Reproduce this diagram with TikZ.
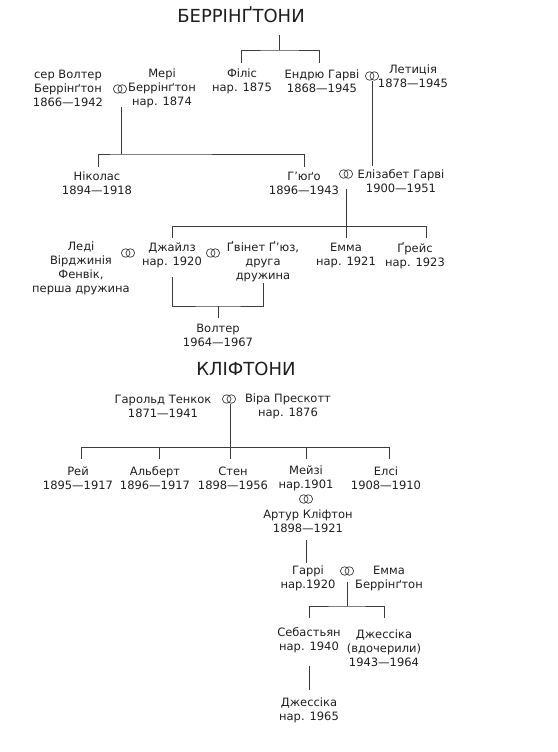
\documentclass[tikz,border=0pt]{standalone}
\usepackage{fontspec}
\setmainfont{DejaVu Sans}
\usepackage{tikz}
\usetikzlibrary{calc}
\definecolor{treeline}{HTML}{3C3C3C}
\definecolor{treetext}{HTML}{1E1E1E}
\tikzset{
  person/.style={align=center, inner sep=0pt, text=treetext,
    font=\fontsize{11.5}{14}\selectfont},
  family/.style={inner sep=0pt, text=treetext, font=\fontsize{18}{20}\selectfont},
  line/.style={draw=treeline, line width=0.9pt},
  rings/.pic={
    \coordinate (-c) at (0,0);
    \draw[treeline, line width=0.7pt] (-2.3,0) circle[radius=4.3] (2.3,0) circle[radius=4.3];
  }
}
\begin{document}
\begin{tikzpicture}[x=1pt, y=-1pt]
  \useasboundingbox (0,0) rectangle (557,752);

  % Berringtons
  \node[family] (titleB) at (241,15) {БЕРРІНҐТОНИ};

  \node[person] (walter) at (68,88) {сер Волтер\\Беррінґтон\\1866—1942};
  \pic (rWM) at (120,89) {rings};
  \node[person] (mary) at (162,88) {Мері\\Беррінґтон\\нар. 1874};
  \node[person] (phyllis) at (242,81) {Філіс\\нар. 1875};
  \node[person] (andrew) at (322,81) {Ендрю Гарві\\1868—1945};
  \pic (rAL) at (372,76) {rings};
  \node[person] (letitia) at (413,76.5) {Летиція\\1878—1945};

  \node[person] (nicholas) at (97,183) {Ніколас\\1894—1918};
  \node[person] (hugo) at (304,183) {Г’юґо\\1896—1943};
  \pic (rHE) at (346,174) {rings};
  \node[person] (elizabeth) at (401,181) {Елізабет Гарві\\1900—1951};

  \node[person] (virginia) at (81,268.5) {Леді\\Вірджинія\\Фенвік,\\перша дружина};
  \pic (rVG) at (128,253) {rings};
  \node[person] (giles) at (172,255.5) {Джайлз\\нар. 1920};
  \pic (rGG) at (213,253) {rings};
  \node[person] (gwyneth) at (263,262) {Ґвінет Ґ’юз,\\друга\\дружина};
  \node[person] (emmaB) at (346,255.5) {Емма\\нар. 1921};
  \node[person] (grace) at (415,255.5) {Ґрейс\\нар. 1923};
  \node[person] (walterJ) at (218,335) {Волтер\\1964—1967};

  % Berrington lines
  \coordinate (barB) at (279,50);
  \draw[line] ($(barB)+(0,-15)$) -- (barB);
  \draw[line] ($(phyllis |- barB)+(-1,13)$) |- (barB) -| ($(andrew |- barB)+(-3,13)$);

  \coordinate (barWM) at (121,154);
  \draw[line] ($(rWM-c)+(1,18)$) -- (barWM);
  \draw[line] ($(nicholas |- barWM)+(1,13)$) |- (barWM) -| ($(hugo |- barWM)+(0,13)$);

  \draw[line] ($(rAL-c)+(0,5)$) -- ($(rAL-c)+(0,90)$);

  \coordinate (barHE) at (346,226);
  \draw[line] ($(rHE-c)+(0,15)$) -- ($(emmaB |- barHE)+(0,12)$);
  \draw[line] ($(giles |- barHE)+(0,12)$) |- ($(grace |- barHE)+(11,0)$) -- ++(0,12);

  \coordinate (barGG) at (218,306);
  \draw[line] ($(giles |- barGG)+(0,-29)$) |- (barGG) -| ($(gwyneth |- barGG)+(0,-23)$);
  \draw[line] (barGG) -- ($(barGG)+(0,12)$);

  % Cliftons
  \node[family] (titleC) at (246,369) {КЛІФТОНИ};

  \node[person] (harold) at (163,406) {Гарольд Тенкок\\1871—1941};
  \pic (rHV) at (229,399) {rings};
  \node[person] (vera) at (288,406) {Віра Прескотт\\нар. 1876};

  \node[person] (ray) at (78,478) {Рей\\1895—1917};
  \node[person] (albert) at (155,478) {Альберт\\1896—1917};
  \node[person] (stan) at (233,478) {Стен\\1898—1956};
  \node[person] (maisie) at (306,478) {Мейзі\\нар.1901};
  \node[person] (elsie) at (386,478) {Елсі\\1908—1910};
  \pic (rMA) at (306,499) {rings};
  \node[person] (arthur) at (308,521.5) {Артур Кліфтон\\1898—1921};

  \node[person] (harry) at (308,578.5) {Гаррі\\нар.1920};
  \pic (rHEm) at (347,571) {rings};
  \node[person] (emmaC) at (389,578.5) {Емма\\Беррінґтон};

  \node[person] (sebastian) at (309,640) {Себастьян\\нар. 1940};
  \node[person] (jessica) at (384,648) {Джессіка\\(вдочерили)\\1943—1964};
  \node[person] (jessicaJ) at (309,710) {Джессіка\\нар. 1965};

  % Clifton lines
  \coordinate (barHV) at (230,447);
  \draw[line] ($(rHV-c)+(1,5)$) -- ($(barHV)+(0,12)$);
  \draw[line] ($(ray |- barHV)+(3,12)$) |- ($(elsie |- barHV)+(3,0)$) -- ++(0,12);
  \draw[line] ($(albert |- barHV)+(4,0)$) -- ++(0,12);
  \draw[line] (maisie |- barHV) -- ++(0,12);

  \draw[line] ($(rMA-c)+(0,41)$) -- ($(rMA-c)+(0,64)$);

  \coordinate (barHEm) at (347,606);
  \draw[line] ($(rHEm-c)+(0,11)$) -- (barHEm);
  \draw[line] ($(sebastian |- barHEm)+(0,12)$) |- (barHEm) -| ($(jessica |- barHEm)+(0,12)$);

  \draw[line] ($(sebastian |- jessicaJ)+(0,-44)$) -- ($(sebastian |- jessicaJ)+(0,-20)$);
\end{tikzpicture}
\end{document}
